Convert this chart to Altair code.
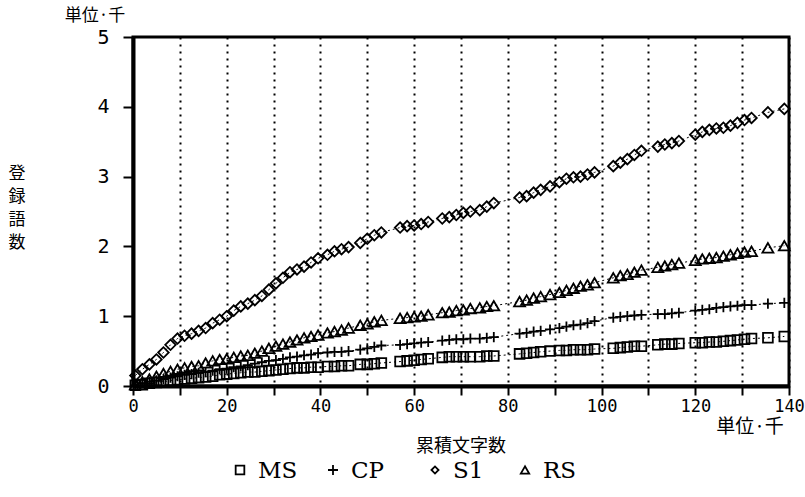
import altair as alt
import pandas as pd

# cumulative characters (thousands)
chars = [0.5, 2, 3.5, 5, 6.5, 8, 9.5, 11, 12.5, 14, 15.5, 17, 18.5, 20, 21.5, 23, 24.5, 26, 27.5, 29,
         30.5, 32, 33.5, 35, 36.5, 38, 39.5, 41.5, 43, 44.5, 46, 48.5, 50, 51.5, 53, 57, 58.5, 60, 61.5, 63,
         66, 67.5, 69, 70.5, 72, 74, 75.5, 77, 82.5, 84, 85.5, 87, 89, 91, 92.5, 94, 95.5, 97, 98.5,
         102.5, 104, 105.5, 107, 108.5, 112, 113.5, 115, 116.5, 120, 121.5, 123, 124.5, 126, 127.5, 129,
         130.5, 132, 135.5, 139]

ms = [0.01, 0.02, 0.04, 0.05, 0.06, 0.08, 0.09, 0.10, 0.11, 0.12, 0.13, 0.14, 0.16, 0.17, 0.18, 0.19, 0.20, 0.20, 0.21, 0.22,
      0.23, 0.24, 0.25, 0.26, 0.26, 0.27, 0.27, 0.28, 0.28, 0.29, 0.29, 0.31, 0.31, 0.32, 0.33, 0.35, 0.36, 0.37, 0.38, 0.39,
      0.41, 0.42, 0.42, 0.42, 0.42, 0.42, 0.43, 0.43, 0.46, 0.47, 0.48, 0.49, 0.50, 0.51, 0.51, 0.52, 0.52, 0.52, 0.53,
      0.54, 0.55, 0.56, 0.57, 0.57, 0.59, 0.60, 0.60, 0.61, 0.62, 0.62, 0.63, 0.63, 0.64, 0.65, 0.66,
      0.67, 0.68, 0.69, 0.71]

cp = [0.01, 0.04, 0.06, 0.08, 0.10, 0.12, 0.14, 0.16, 0.17, 0.19, 0.20, 0.22, 0.24, 0.25, 0.27, 0.28, 0.30, 0.32, 0.34, 0.36,
      0.37, 0.39, 0.41, 0.42, 0.44, 0.45, 0.47, 0.48, 0.49, 0.49, 0.50, 0.52, 0.54, 0.56, 0.58, 0.59, 0.60, 0.61, 0.62, 0.63,
      0.65, 0.66, 0.67, 0.67, 0.68, 0.68, 0.69, 0.70, 0.75, 0.76, 0.78, 0.79, 0.81, 0.83, 0.85, 0.87, 0.88, 0.90, 0.93,
      0.98, 0.99, 1.00, 1.01, 1.02, 1.03, 1.03, 1.04, 1.05, 1.08, 1.09, 1.10, 1.12, 1.13, 1.14, 1.15,
      1.16, 1.16, 1.18, 1.19]

s1 = [0.15, 0.24, 0.31, 0.38, 0.48, 0.59, 0.68, 0.72, 0.75, 0.79, 0.83, 0.90, 0.95, 1.00, 1.08, 1.14, 1.18, 1.23, 1.29, 1.38,
      1.47, 1.55, 1.63, 1.67, 1.71, 1.77, 1.83, 1.88, 1.93, 1.96, 1.99, 2.05, 2.11, 2.16, 2.20, 2.27, 2.29, 2.30, 2.32, 2.35,
      2.40, 2.42, 2.45, 2.48, 2.50, 2.52, 2.57, 2.62, 2.70, 2.72, 2.77, 2.81, 2.86, 2.92, 2.97, 2.99, 3.00, 3.03, 3.06,
      3.15, 3.20, 3.25, 3.31, 3.37, 3.43, 3.46, 3.48, 3.51, 3.60, 3.64, 3.67, 3.69, 3.70, 3.73, 3.77,
      3.81, 3.84, 3.92, 3.97]

rs = [0.02, 0.06, 0.10, 0.14, 0.18, 0.21, 0.24, 0.26, 0.28, 0.29, 0.33, 0.36, 0.38, 0.39, 0.41, 0.43, 0.44, 0.47, 0.50, 0.54,
      0.57, 0.60, 0.63, 0.66, 0.69, 0.71, 0.73, 0.76, 0.78, 0.80, 0.83, 0.87, 0.89, 0.92, 0.94, 0.97, 0.98, 0.99, 1.00, 1.02,
      1.05, 1.06, 1.08, 1.09, 1.11, 1.12, 1.14, 1.15, 1.21, 1.23, 1.26, 1.28, 1.31, 1.34, 1.37, 1.40, 1.43, 1.45, 1.48,
      1.55, 1.58, 1.60, 1.63, 1.66, 1.70, 1.72, 1.74, 1.76, 1.80, 1.82, 1.83, 1.84, 1.86, 1.88, 1.90,
      1.92, 1.93, 1.98, 2.01]

series_names = ["MS", "CP", "S1", "RS"]
series_values = [ms, cp, s1, rs]
x_ticks = list(range(0, 150, 10))
y_ticks = [0, 1, 2, 3, 4, 5]
y_title_chars = ["登", "録", "語", "数"]

rows = []
for name, vals in zip(series_names, series_values):
    for c, v in zip(chars, vals):
        rows.append({"chars": c, "words": v, "series": name})
df = pd.DataFrame(rows)

plus_path = "M-1,0L1,0M0,-1L0,1"
shapes = ["square", plus_path, "diamond", "triangle-up"]
sizes = [95, 120, 60, 90]
shape_scale = alt.Scale(domain=series_names, range=shapes)
size_scale = alt.Scale(domain=series_names, range=sizes)

x_enc = alt.X("chars:Q", scale=alt.Scale(domain=[0, 140], nice=False),
              axis=alt.Axis(values=x_ticks, title=None, grid=True, gridDash=[2, 5], gridWidth=2,
                            gridColor="black", labelExpr="datum.value % 20 == 0 ? datum.label : ''",
                            tickSize=9, tickWidth=2, tickColor="black", domainWidth=4, domainColor="black",
                            labelFont="DejaVu Sans Mono", labelFontSize=17, labelColor="black",
                            labelPadding=3, labelFlush=False))
y_enc = alt.Y("words:Q", scale=alt.Scale(domain=[0, 5], nice=False),
              axis=alt.Axis(values=y_ticks, format="d", title=None, grid=False, tickSize=10, tickWidth=2,
                            tickColor="black", domainWidth=4, domainColor="black",
                            labelFont="DejaVu Sans Mono", labelFontSize=20, labelColor="black",
                            labelPadding=14))

lines = alt.Chart(df).mark_line(color="black", strokeWidth=1, strokeDash=[2, 3]).encode(
    x=x_enc, y=y_enc, detail="series:N")

points = alt.Chart(df).mark_point(color="black", filled=False, strokeWidth=1.8, opacity=1).encode(
    x="chars:Q", y="words:Q",
    shape=alt.Shape("series:N", scale=shape_scale, legend=None),
    size=alt.Size("series:N", scale=size_scale, legend=None))

cjk = "Noto Sans CJK JP"

def label(text, x, y, size, font=cjk, align="center"):
    return alt.Chart(pd.DataFrame({"a": [0]})).mark_text(
        text=text, font=font, fontSize=size, align=align, baseline="middle", color="black"
    ).encode(x=alt.value(x), y=alt.value(y))

unit_top = label("単位·千", -38, -21, 17)
unit_bottom = label("単位·千", 617, 390, 19)
x_title = label("累積文字数", 328, 410, 18)
y_title = [label(ch, -116, 137 + 23 * i, 17) for i, ch in enumerate(y_title_chars)]

# legend
legend_syms = []
sym_x = [107, 200, 302, 392]
leg_sizes = [75, 100, 50, 70]
for shp, xx, sz in zip(shapes, sym_x, leg_sizes):
    legend_syms.append(
        alt.Chart(pd.DataFrame({"a": [0]})).mark_point(shape=shp, size=sz, filled=False, color="black",
                                                        strokeWidth=1.8, opacity=1)
        .encode(x=alt.value(xx), y=alt.value(433)))
legend_txt = [label(n, xx + 18, 434, 23, font="DejaVu Serif", align="left")
              for n, xx in zip(series_names, sym_x)]

chart = alt.layer(lines, points, unit_top, unit_bottom, x_title, *y_title, *legend_syms, *legend_txt).properties(
    width=656, height=349,
    padding={"left": 133, "top": 37, "right": 16, "bottom": 111},
    autosize=alt.AutoSizeParams(type="none"),
    background="white",
).configure_view(stroke="black", strokeWidth=3)

chart.save("out.html", embed_options={"renderer": "svg", "actions": False})
